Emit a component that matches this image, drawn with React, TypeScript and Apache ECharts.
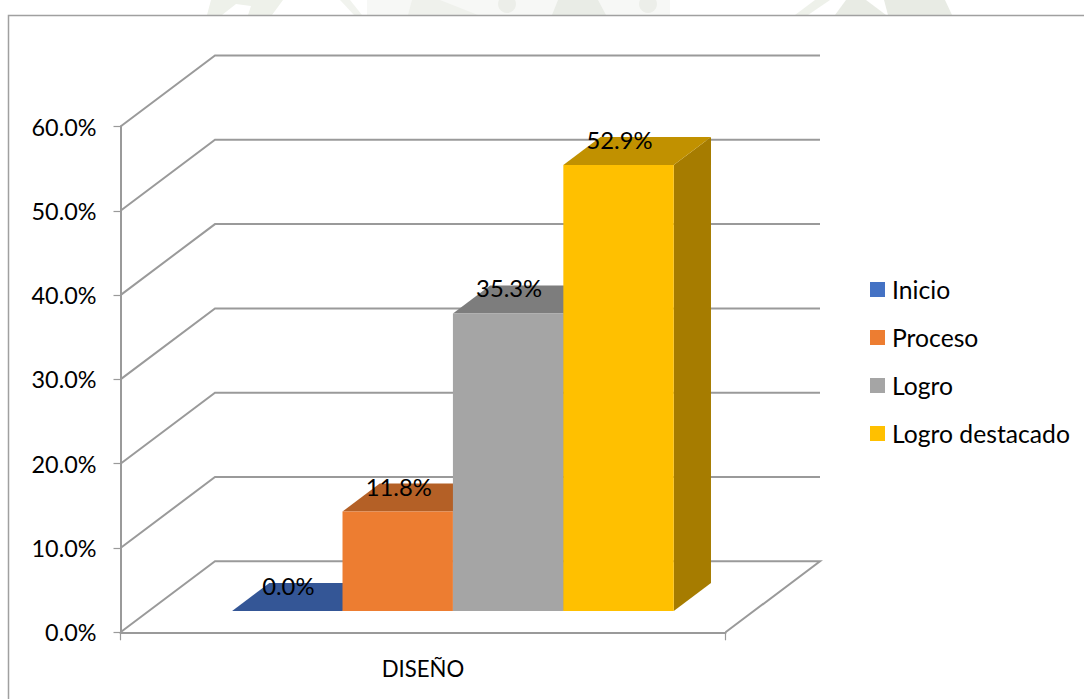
import React, { useEffect, useRef } from "react";
import * as echarts from "echarts";

const categories = ["DISEÑO"];
const seriesNames = ["Inicio", "Proceso", "Logro", "Logro destacado"];
const seriesValues = [0.0, 11.8, 35.3, 52.9];
const yTicks = [0, 10, 20, 30, 40, 50, 60];
const frontColors = ["#4472C4", "#ED7D31", "#A5A5A5", "#FFC000"];
const topColors = ["#345696", "#B46026", "#7D7D7D", "#C19100"];
const sideColors = ["#294579", "#964E1E", "#646464", "#A67C00"];

const FONT = "Lato, Carlito, sans-serif";
const GRID_COLOR = "#9a9a9a";
const DEPTH_X = 94.5;
const DEPTH_Y = 71;
const BAR_START = 0.1376;
const BAR_WIDTH = 0.1825;
const FRONT_DEPTH = 0.3;
const BACK_DEPTH = 0.694;

const fmt = (v: number) => v.toFixed(1) + "%";

const wm = (points: number[][], fill: string) => ({
  type: "polygon",
  shape: { points },
  style: { fill },
  silent: true,
});
const wmc = (cx: number, cy: number, r: number, fill: string) => ({
  type: "circle",
  shape: { cx, cy, r },
  style: { fill },
  silent: true,
});

export default function App() {
  const ref = useRef<HTMLDivElement>(null);
  useEffect(() => {
    const chart = echarts.init(ref.current!, undefined, { renderer: "svg" });

    const wallSeries = {
      type: "custom",
      name: "walls",
      coordinateSystem: "cartesian2d",
      silent: true,
      z: 1,
      clip: false,
      encode: { x: 0, y: 1 },
      data: yTicks.map((t) => [0, t]),
      renderItem: (params: any, api: any) => {
        const cs = params.coordSys;
        const value = api.value(1);
        const y = api.coord([0, value])[1];
        const left = cs.x;
        const right = cs.x + cs.width;
        const points = [
          [left, y],
          [left + DEPTH_X, y - DEPTH_Y],
          [right + DEPTH_X, y - DEPTH_Y],
        ];
        if (value === 0) points.push([right, y]);
        return {
          type: "polyline",
          shape: { points },
          style: { stroke: GRID_COLOR, lineWidth: 2, fill: "none" },
        };
      },
    };

    const barSeries = seriesNames.map((name, i) => ({
      type: "custom",
      name,
      coordinateSystem: "cartesian2d",
      z: 2 + i,
      clip: false,
      itemStyle: { color: frontColors[i] },
      encode: { x: 0, y: 1 },
      data: [[0, seriesValues[i]]],
      renderItem: (params: any, api: any) => {
        const cs = params.coordSys;
        const value = api.value(1);
        const band = api.size([1, 0])[0];
        const x0 = cs.x + band * (BAR_START + i * BAR_WIDTH);
        const x1 = x0 + band * BAR_WIDTH;
        const fx = DEPTH_X * FRONT_DEPTH;
        const fy = DEPTH_Y * FRONT_DEPTH;
        const bx = DEPTH_X * BACK_DEPTH;
        const by = DEPTH_Y * BACK_DEPTH;
        const base = api.coord([0, 0])[1];
        const top = api.coord([0, value])[1];
        const dx = bx - fx;
        const dy = by - fy;
        const xa = x0 + fx;
        const xb = x1 + fx;
        const yBase = base - fy;
        const yTop = top - fy;
        return {
          type: "group",
          children: [
            {
              type: "polygon",
              shape: { points: [[xb, yBase], [xb + dx, yBase - dy], [xb + dx, yTop - dy], [xb, yTop]] },
              style: { fill: sideColors[i] },
            },
            {
              type: "polygon",
              shape: { points: [[xa, yTop], [xa + dx, yTop - dy], [xb + dx, yTop - dy], [xb, yTop]] },
              style: { fill: topColors[i] },
            },
            {
              type: "rect",
              shape: { x: xa, y: yTop, width: xb - xa, height: yBase - yTop },
              style: { fill: frontColors[i] },
            },
            {
              type: "text",
              z2: 100,
              x: (xa + xb) / 2 + 1,
              y: yTop - 25,
              style: {
                text: fmt(value),
                fontFamily: FONT,
                fontSize: 23.8,
                fill: "#000000",
                align: "center",
                verticalAlign: "middle",
              },
            },
          ],
        };
      },
    }));

    chart.setOption({
      animation: false,
      backgroundColor: "#ffffff",
      textStyle: { fontFamily: FONT },
      graphic: [
        wm([[207, 15], [211, 0], [283, 0], [272, 15], [248, 15], [251, 6], [236, 4], [222, 15]], "#eef1ea"),
        wm([[340, 0], [350, 0], [362, 15], [354, 15]], "#f1f3ee"),
        wm([[367, 0], [670, 0], [670, 15], [367, 15]], "#f7f8f6"),
        wm([[408, 15], [412, 0], [440, 0], [478, 15]], "#eff1ec"),
        wmc(507, 4, 9, "#eceee9"),
        wm([[552, 15], [558, 0], [598, 0], [606, 15]], "#e9ece6"),
        wmc(648, 4, 9, "#eceee9"),
        wm([[795, 15], [815, 0], [830, 0], [808, 15]], "#eef1ea"),
        wm([[835, 15], [846, 0], [866, 0], [886, 15]], "#e8ebe4"),
        wm([[888, 15], [884, 0], [945, 0], [952, 15]], "#e8ebe4"),
        {
          type: "polyline",
          silent: true,
          shape: { points: [[8.5, 699], [8.5, 15.5], [1084, 15.5]] },
          style: { stroke: "#a0a0a0", lineWidth: 1.5, fill: "none" },
        },
      ],
      grid: { left: 120.5, right: 358.5, top: 126.5, bottom: 66.7, containLabel: false },
      legend: {
        orient: "vertical",
        left: 865,
        top: 272,
        itemWidth: 15,
        itemHeight: 15,
        itemGap: 23,
        icon: "rect",
        data: seriesNames,
        selectedMode: false,
        textStyle: {
          fontFamily: FONT,
          fontSize: 24.7,
          lineHeight: 25,
          color: "#000000",
          padding: [0, 0, 0, 2],
        },
      },
      xAxis: {
        type: "category",
        data: categories,
        axisLine: { show: true, lineStyle: { color: GRID_COLOR, width: 2 } },
        axisTick: { show: true, length: 8, lineStyle: { color: GRID_COLOR, width: 1.2 } },
        axisLabel: { margin: 25, fontSize: 22.2, color: "#000000", fontFamily: FONT },
      },
      yAxis: {
        type: "value",
        min: 0,
        max: 60,
        interval: 10,
        splitLine: { show: false },
        axisLine: { show: true, lineStyle: { color: GRID_COLOR, width: 2 } },
        axisTick: { show: true, length: 7, lineStyle: { color: GRID_COLOR, width: 1.2 } },
        axisLabel: {
          margin: 24,
          fontSize: 23.4,
          color: "#000000",
          fontFamily: FONT,
          formatter: (v: number) => fmt(v),
        },
      },
      series: [wallSeries, ...barSeries],
    });
    return () => chart.dispose();
  }, []);
  return (
    <div
      ref={ref}
      style={{ position: "fixed", left: 0, top: 0, width: 1084, height: 699, background: "#fff" }}
    />
  );
}
